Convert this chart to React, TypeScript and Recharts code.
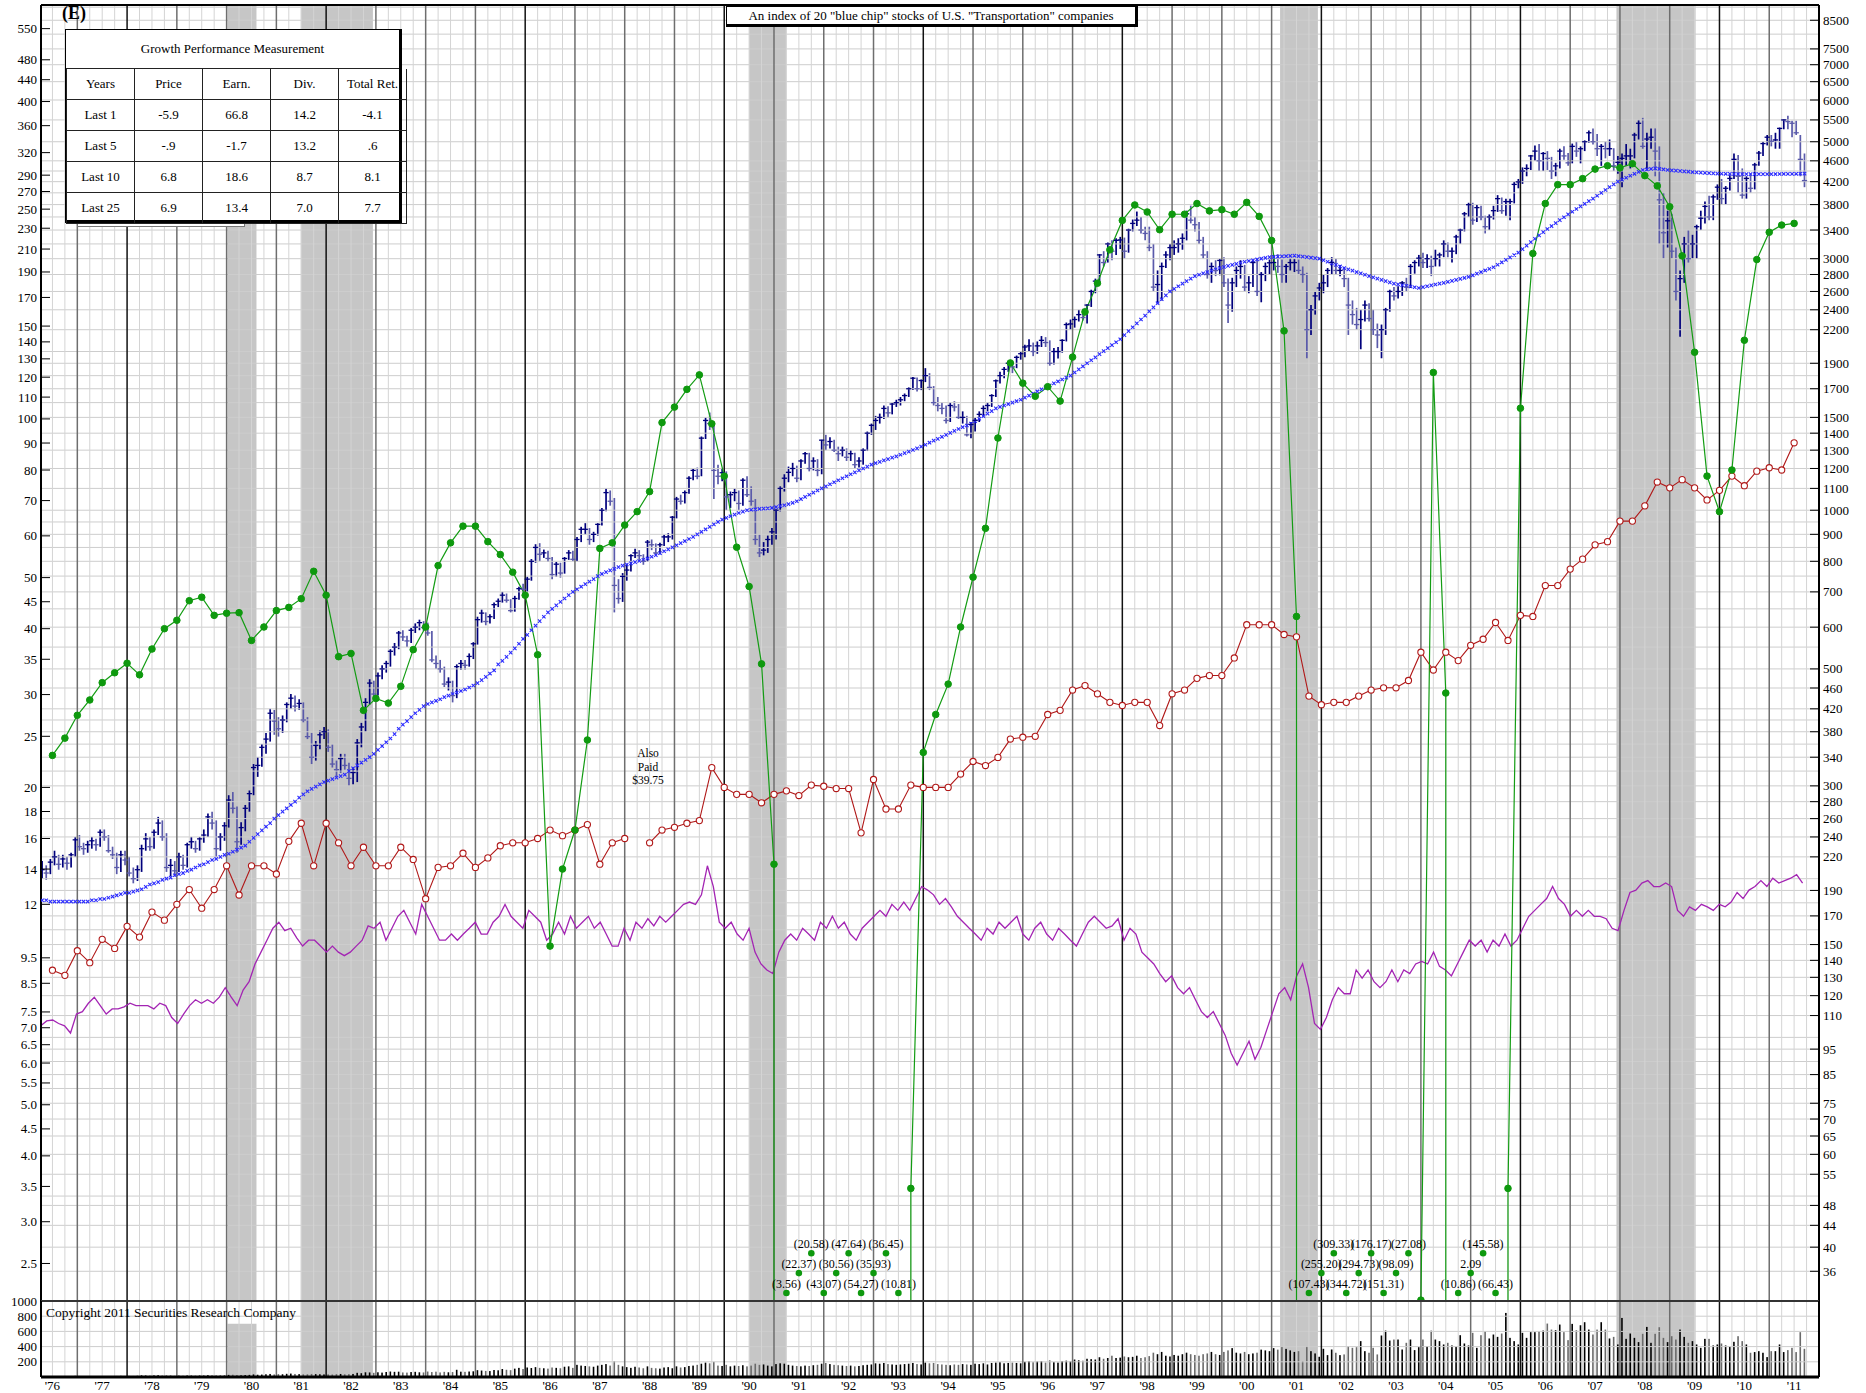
import React from 'react';
import { ComposedChart, Bar, Line, XAxis, YAxis, ReferenceArea, ReferenceLine } from 'recharts';

const W = 1866;
const SERIF = '"Liberation Serif", "Times New Roman", "DejaVu Serif", serif';

// monthly index bars, Apr 1976 .. Sep 2011 (right scale, index points)
const closes = [
  208, 205, 215, 220, 213, 218, 214, 222, 237,
  230, 228, 232, 236, 232, 245, 240, 226, 222, 210, 222, 217,
  205, 200, 208, 228, 238, 230, 245, 255, 240, 210, 212, 207,
  220, 212, 232, 235, 228, 238, 242, 262, 255, 228, 240, 252,
  282, 272, 235, 250, 272, 290, 325, 328, 355, 368, 412, 398,
  385, 400, 428, 440, 425, 430, 400, 372, 340, 358, 375, 380,
  355, 330, 322, 338, 328, 310, 318, 362, 388, 432, 470, 448,
  485, 500, 512, 540, 550, 585, 575, 565, 592, 600, 612, 599,
  585, 520, 512, 500, 468, 472, 445, 505, 512, 508, 528, 558,
  620, 638, 615, 628, 662, 672, 690, 675, 645, 680, 710, 708,
  740, 800, 850, 825, 830, 810, 755, 790, 760, 810, 830, 807,
  880, 920, 920, 880, 900, 940, 1000, 1080, 1040, 720, 680, 749,
  770, 820, 830, 820, 800, 870, 860, 830, 860, 890, 890, 970,
  1050, 1040, 1080, 1150, 1190, 1160, 1370, 1480, 1460, 1190, 1160, 1178,
  1060, 1070, 1080, 1030, 1140, 1070, 1040, 880, 830, 840, 880, 910,
  1000, 1100, 1150, 1180, 1200, 1150, 1240, 1280, 1200, 1240, 1190, 1358,
  1330, 1350, 1300, 1280, 1300, 1260, 1280, 1220, 1240, 1300, 1400, 1449,
  1480, 1500, 1560, 1530, 1590, 1600, 1620, 1650, 1700, 1780, 1700, 1762,
  1800, 1710, 1600, 1580, 1560, 1480, 1580, 1570, 1500, 1500, 1390, 1455,
  1480, 1520, 1560, 1580, 1650, 1760, 1800, 1850, 1900, 1870, 1950, 1981,
  2040, 2050, 2000, 2050, 2100, 2080, 1900, 2000, 2000, 2100, 2250, 2256,
  2300, 2350, 2320, 2450, 2600, 2720, 3050, 2950, 3200, 3100, 3250, 3256,
  3100, 3400, 3500, 3550, 3400, 3350, 3150, 2650, 2680, 2900, 3050, 3149,
  3150, 3200, 3280, 3650, 3550, 3480, 3250, 3050, 2800, 2900, 2850, 2977,
  2700, 2450, 2700, 2850, 2900, 2650, 2700, 2950, 2600, 2800, 2900, 2947,
  2950, 2900, 2800, 2900, 2950, 2950, 2850, 2800, 2200, 2400, 2550, 2640,
  2700, 2850, 2950, 2850, 2850, 2750, 2450, 2350, 2250, 2300, 2450, 2310,
  2200, 2150, 2200, 2400, 2600, 2550, 2600, 2700, 2650, 2900, 2950, 3007,
  2950, 3000, 2900, 3000, 3050, 3200, 3100, 3100, 3300, 3400, 3650, 3798,
  3550, 3750, 3600, 3450, 3600, 3700, 3900, 3700, 3850, 3850, 4150, 4196,
  4400, 4450, 4700, 4800, 4600, 4750, 4650, 4400, 4500, 4800, 4700, 4560,
  4900, 4800, 4850, 5000, 5200, 5000, 4850, 4900, 4850, 4850, 4500, 4570,
  4650, 4700, 4700, 5150, 5420, 4900, 5060, 5100, 4800, 3880, 3360, 3540,
  3100, 2600, 2750, 3200, 3000, 3200, 3450, 3580, 3770, 3600, 3930, 4100,
  3900, 4080, 4260, 4630, 4300, 3960, 4260, 4080, 4520, 4760, 4960, 5100,
  5010, 5040, 5300, 5500, 5460, 5420, 5200, 4630, 4220,
];
const highs = [
  216, 212, 218, 226, 222, 222, 220, 224, 240,
  242, 234, 236, 240, 238, 248, 248, 242, 230, 224, 226, 226,
  220, 210, 212, 232, 244, 240, 248, 262, 258, 244, 218, 216,
  224, 222, 234, 240, 236, 240, 248, 266, 268, 258, 244, 256,
  288, 292, 274, 256, 276, 294, 330, 340, 360, 378, 420, 418,
  405, 408, 432, 448, 445, 438, 432, 405, 378, 365, 382, 388,
  384, 360, 335, 345, 345, 332, 325, 368, 395, 440, 478, 475,
  492, 508, 518, 545, 560, 590, 592, 578, 598, 610, 620, 616,
  612, 590, 530, 520, 505, 482, 475, 510, 520, 520, 535, 562,
  628, 648, 640, 635, 668, 680, 700, 695, 678, 688, 716, 725,
  748, 808, 862, 866, 842, 838, 815, 798, 795, 815, 840, 838,
  890, 930, 945, 925, 910, 945, 1010, 1101, 1090, 1055, 740, 760,
  790, 825, 845, 840, 825, 878, 880, 865, 868, 898, 905, 975,
  1060, 1070, 1090, 1160, 1200, 1205, 1380, 1500, 1532, 1470, 1220, 1200,
  1185, 1085, 1100, 1090, 1150, 1160, 1110, 1050, 900, 870, 895, 925,
  1005, 1110, 1170, 1210, 1230, 1215, 1250, 1290, 1285, 1260, 1250, 1360,
  1390, 1375, 1360, 1320, 1320, 1310, 1300, 1285, 1260, 1310, 1410, 1460,
  1510, 1525, 1580, 1575, 1600, 1620, 1640, 1665, 1710, 1790, 1785, 1770,
  1860, 1820, 1720, 1640, 1600, 1580, 1600, 1610, 1590, 1540, 1510, 1470,
  1500, 1540, 1580, 1600, 1660, 1770, 1830, 1870, 1920, 1910, 1965, 2000,
  2060, 2110, 2080, 2090, 2140, 2130, 2100, 2030, 2040, 2110, 2270, 2300,
  2330, 2400, 2410, 2460, 2620, 2750, 3060, 3100, 3220, 3250, 3280, 3300,
  3290, 3420, 3560, 3686, 3600, 3450, 3450, 3200, 2850, 2950, 3100, 3200,
  3250, 3280, 3350, 3700, 3783, 3600, 3520, 3300, 3100, 2950, 2980, 3000,
  3020, 2750, 2760, 2900, 2980, 2920, 2780, 2980, 2980, 2830, 2950, 2990,
  3050, 3060, 2990, 2930, 3010, 3000, 2990, 2900, 2820, 2450, 2600, 2700,
  2800, 2880, 3020, 3000, 2920, 2880, 2760, 2500, 2420, 2400, 2500, 2470,
  2400, 2260, 2250, 2420, 2620, 2650, 2660, 2720, 2760, 2930, 2980, 3050,
  3080, 3060, 3040, 3120, 3080, 3250, 3220, 3150, 3330, 3420, 3680, 3830,
  3830, 3800, 3780, 3620, 3640, 3780, 3960, 3920, 3900, 3900, 4200, 4250,
  4470, 4530, 4720, 4920, 4950, 4780, 4800, 4680, 4560, 4850, 4900, 4760,
  4960, 5000, 4900, 5030, 5250, 5300, 5170, 4950, 5000, 5050, 4860, 4700,
  4750, 4950, 4850, 5200, 5500, 5550, 5200, 5300, 5300, 4900, 4000, 3700,
  3650, 3150, 2850, 3300, 3400, 3330, 3480, 3700, 3850, 3950, 3970, 4150,
  4250, 4120, 4320, 4750, 4720, 4450, 4300, 4350, 4560, 4800, 5000, 5150,
  5150, 5200, 5320, 5520, 5600, 5480, 5480, 5150, 4750,
];
const lows = [
  200, 199, 204, 212, 208, 210, 208, 210, 220,
  226, 222, 224, 228, 226, 230, 236, 224, 218, 204, 206, 212,
  202, 196, 198, 206, 226, 226, 228, 242, 236, 206, 202, 202,
  206, 208, 210, 228, 224, 226, 234, 240, 248, 220, 226, 236,
  250, 266, 224, 232, 246, 268, 288, 312, 326, 345, 364, 375,
  372, 378, 396, 420, 415, 418, 396, 368, 330, 335, 352, 368,
  348, 325, 312, 318, 322, 300, 302, 305, 355, 380, 428, 438,
  445, 478, 492, 505, 530, 545, 565, 550, 560, 585, 592, 590,
  578, 515, 500, 492, 462, 455, 432, 440, 498, 498, 505, 522,
  556, 612, 605, 610, 622, 655, 668, 668, 640, 642, 676, 690,
  700, 735, 795, 800, 812, 798, 740, 748, 745, 758, 805, 800,
  800, 870, 900, 860, 870, 895, 935, 995, 1020, 640, 665, 670,
  735, 765, 812, 805, 788, 798, 840, 820, 825, 855, 870, 880,
  965, 1025, 1030, 1075, 1140, 1145, 1160, 1365, 1420, 1050, 1120, 1135,
  1000, 1010, 1040, 1000, 1020, 1060, 1020, 860, 815, 821, 830, 860,
  880, 995, 1085, 1130, 1160, 1130, 1140, 1225, 1185, 1190, 1160, 1170,
  1300, 1310, 1290, 1240, 1265, 1240, 1240, 1200, 1205, 1220, 1295, 1390,
  1420, 1460, 1490, 1500, 1520, 1570, 1580, 1610, 1640, 1690, 1680, 1690,
  1750, 1690, 1580, 1540, 1520, 1460, 1470, 1540, 1490, 1460, 1380, 1370,
  1410, 1470, 1500, 1540, 1570, 1640, 1740, 1780, 1830, 1820, 1860, 1930,
  1950, 2000, 1960, 1980, 2040, 2040, 1880, 1890, 1940, 1990, 2090, 2200,
  2220, 2280, 2290, 2260, 2430, 2580, 2700, 2900, 2950, 2980, 3050, 3130,
  3000, 3080, 3380, 3460, 3350, 3250, 3100, 2600, 2460, 2500, 2880, 2980,
  3050, 3080, 3120, 3250, 3500, 3380, 3200, 3000, 2750, 2700, 2780, 2790,
  2650, 2265, 2380, 2650, 2750, 2600, 2580, 2650, 2550, 2480, 2720, 2800,
  2850, 2820, 2700, 2700, 2850, 2830, 2800, 2700, 1942, 2150, 2350, 2500,
  2580, 2650, 2800, 2800, 2780, 2650, 2150, 2250, 2200, 2020, 2280, 2280,
  2150, 2030, 1942, 2150, 2380, 2500, 2520, 2550, 2600, 2640, 2810, 2900,
  2880, 2880, 2780, 2900, 2900, 3020, 3020, 2950, 3060, 3200, 3380, 3600,
  3480, 3520, 3550, 3350, 3400, 3560, 3680, 3650, 3620, 3550, 3820, 4080,
  4160, 4300, 4420, 4600, 4400, 4400, 4420, 4250, 4300, 4450, 4620, 4500,
  4550, 4680, 4550, 4800, 4980, 4940, 4700, 4500, 4650, 4700, 4400, 4350,
  4100, 4500, 4450, 4650, 5050, 4850, 4400, 4850, 4300, 3200, 3000, 3150,
  3000, 2500, 2134, 2700, 2950, 3000, 3000, 3400, 3500, 3550, 3550, 3880,
  3800, 3800, 4040, 4250, 4000, 3900, 3900, 4000, 4060, 4500, 4700, 4920,
  4900, 4850, 4850, 5280, 5280, 5100, 5150, 4300, 4100,
];
// blue "x" average line, monthly
const avgLine = [
  182, 182, 181, 181, 181, 181, 181, 181, 181,
  181, 181, 181, 182, 182, 183, 183, 184, 185, 186, 187, 188,
  188, 189, 190, 191, 193, 195, 196, 197, 199, 200, 201, 203,
  204, 205, 207, 208, 210, 212, 213, 215, 217, 218, 220, 222,
  223, 225, 227, 229, 231, 235, 239, 243, 247, 251, 255, 260,
  264, 268, 272, 276, 280, 285, 289, 293, 296, 299, 302, 305,
  307, 309, 311, 313, 315, 320, 324, 328, 332, 336, 340, 345,
  351, 357, 363, 369, 376, 385, 392, 398, 405, 412, 418, 425,
  429, 432, 435, 438, 442, 445, 448, 451, 454, 457, 461, 465,
  470, 476, 483, 490, 497, 510, 518, 527, 537, 547, 558, 570,
  580, 592, 604, 616, 628, 640, 650, 660, 670, 680, 690, 700,
  708, 716, 724, 732, 740, 750, 757, 763, 769, 774, 780, 785,
  789, 793, 797, 801, 805, 810, 816, 822, 829, 836, 843, 850,
  858, 866, 874, 882, 890, 900, 910, 920, 930, 940, 950, 960,
  967, 974, 981, 988, 994, 1000, 1002, 1004, 1006, 1007, 1008, 1010,
  1014, 1018, 1022, 1027, 1033, 1040, 1050, 1060, 1070, 1080, 1090, 1100,
  1110, 1120, 1130, 1140, 1150, 1160, 1170, 1180, 1190, 1200, 1210, 1220,
  1228, 1235, 1243, 1250, 1258, 1265, 1274, 1283, 1292, 1301, 1310, 1320,
  1331, 1343, 1355, 1366, 1378, 1390, 1402, 1414, 1426, 1437, 1448, 1460,
  1475, 1491, 1508, 1525, 1542, 1560, 1570, 1580, 1590, 1600, 1610, 1620,
  1635, 1650, 1665, 1680, 1695, 1710, 1725, 1740, 1755, 1770, 1785, 1800,
  1825, 1850, 1875, 1900, 1925, 1950, 1977, 2004, 2030, 2057, 2083, 2110,
  2148, 2186, 2224, 2262, 2300, 2340, 2383, 2426, 2470, 2513, 2556, 2600,
  2630, 2660, 2690, 2720, 2750, 2780, 2797, 2813, 2830, 2847, 2863, 2880,
  2893, 2907, 2920, 2933, 2947, 2960, 2970, 2980, 2990, 3000, 3010, 3020,
  3023, 3027, 3030, 3033, 3037, 3040, 3033, 3027, 3020, 3013, 3007, 3000,
  2980, 2960, 2940, 2920, 2900, 2880, 2863, 2847, 2830, 2813, 2797, 2780,
  2765, 2750, 2735, 2720, 2705, 2690, 2682, 2673, 2665, 2657, 2648, 2640,
  2650, 2660, 2670, 2680, 2690, 2700, 2712, 2723, 2735, 2747, 2758, 2770,
  2790, 2810, 2830, 2850, 2870, 2890, 2922, 2953, 2985, 3017, 3048, 3080,
  3128, 3177, 3225, 3273, 3322, 3370, 3415, 3460, 3505, 3550, 3595, 3640,
  3683, 3727, 3770, 3813, 3857, 3900, 3950, 4000, 4050, 4100, 4150, 4200,
  4237, 4273, 4310, 4347, 4383, 4420, 4430, 4440, 4450, 4440, 4430, 4420,
  4413, 4407, 4400, 4393, 4387, 4380, 4375, 4370, 4365, 4360, 4355, 4350,
  4348, 4347, 4345, 4343, 4342, 4340, 4340, 4340, 4340, 4340, 4340, 4340,
  4341, 4342, 4343, 4344, 4345, 4346, 4347, 4348, 4350,
];
// monthly volume, millions
const volume = [
  12, 10, 11, 13, 10, 11, 12, 13, 15,
  14, 12, 13, 12, 11, 13, 12, 11, 12, 14, 15, 13,
  15, 14, 16, 22, 20, 18, 21, 24, 19, 22, 18, 15,
  18, 17, 20, 19, 18, 20, 19, 24, 22, 21, 19, 20,
  28, 30, 26, 22, 25, 28, 34, 30, 32, 36, 40, 34,
  38, 36, 42, 45, 40, 38, 35, 36, 40, 38, 36, 34,
  35, 33, 38, 40, 36, 38, 40, 55, 50, 62, 60, 55,
  62, 58, 66, 72, 68, 70, 60, 58, 65, 68, 62, 60,
  72, 65, 70, 60, 68, 62, 65, 95, 70, 68, 72, 75,
  90, 85, 80, 78, 92, 88, 105, 95, 90, 110, 120, 105,
  125, 118, 130, 120, 115, 110, 125, 120, 115, 135, 140, 120,
  160, 150, 145, 140, 135, 150, 160, 170, 150, 210, 160, 140,
  130, 120, 135, 125, 115, 140, 120, 115, 110, 125, 130, 115,
  140, 125, 130, 145, 150, 160, 175, 190, 180, 200, 150, 145,
  160, 140, 150, 145, 155, 140, 150, 175, 160, 165, 150, 140,
  170, 180, 175, 160, 150, 145, 140, 150, 145, 155, 160, 175,
  185, 170, 160, 155, 150, 145, 150, 140, 145, 155, 160, 165,
  180, 175, 185, 170, 165, 160, 165, 170, 175, 185, 170, 165,
  190, 180, 185, 170, 165, 160, 155, 165, 160, 170, 165, 160,
  175, 170, 180, 165, 185, 190, 195, 180, 185, 190, 185, 180,
  200, 210, 195, 205, 210, 190, 220, 195, 190, 210, 215, 205,
  230, 220, 215, 240, 235, 230, 260, 240, 250, 280, 250, 255,
  270, 260, 265, 280, 250, 260, 275, 320, 300, 330, 280, 270,
  290, 280, 300, 320, 300, 290, 280, 300, 310, 330, 300, 290,
  330, 350, 380, 320, 310, 330, 300, 310, 320, 360, 350, 340,
  380, 360, 400, 370, 350, 330, 340, 210, 406, 340, 310, 266,
  371, 288, 362, 319, 288, 297, 406, 384, 393, 472, 340, 319,
  384, 297, 546, 611, 480, 493, 493, 362, 450, 493, 354, 393,
  493, 406, 611, 493, 472, 428, 450, 415, 397, 550, 441, 415,
  581, 384, 550, 603, 507, 559, 528, 572, 843, 515, 472, 428,
  581, 515, 590, 590, 603, 611, 703, 624, 616, 690, 590, 485,
  699, 616, 681, 721, 624, 559, 624, 721, 624, 507, 528, 428,
  777, 502, 572, 515, 459, 568, 659, 450, 568, 655, 515, 459,
  537, 493, 624, 528, 450, 472, 428, 384, 502, 502, 415, 428,
  441, 415, 397, 463, 537, 472, 428, 319, 328, 340, 319, 262,
  340, 340, 428, 328, 354, 384, 328, 590, 371,
];
// quarterly earnings from mid-1976 (left scale); negatives are shown as labels
const earnings = [
  23.0, 24.8, 27.4, 29.3, 31.6, 33.0, 34.4, 32.7, 36.6, 40.0,
  41.5, 45.2, 45.9, 42.4, 42.8, 42.9, 38.0, 40.3, 43.3, 43.9,
  45.6, 51.4, 46.3, 35.4, 35.9, 28.0, 29.5, 28.9, 31.1, 36.5,
  40.3, 52.7, 58.2, 62.6, 62.6, 58.5, 55.3, 51.2, 46.3, 35.7,
  10.0, 14.0, 16.6, 24.6, 56.8, 58.2, 62.9, 66.7, 72.8, 98.4,
  105.3, 113.8, 121.2, 97.9, 77.9, 57.1, 48.1, 34.3, 14.3, -3.56,
  -22.37, -20.58, -43.07, -30.56, -47.64, -54.27, -35.93, -36.45, -10.81, 3.47,
  23.3, 27.5, 31.4, 40.3, 50.1, 62.0, 92.0, 127.7, 116.9, 110.4,
  115.1, 108.1, 131.0, 159.6, 180.9, 209.3, 238.0, 254.6, 246.9, 228.5,
  244.5, 244.5, 256.2, 248.1, 249.4, 244.5, 257.5, 242.2, 218.0, 146.9,
  42.2, -107.43, -255.20, -309.33, -344.72, -294.73, -176.17, -151.31, -98.09, -27.08,
  2.13, 122.5, 30.2, -10.86, 2.09, -145.58, -66.43, 3.47, 104.8, 206.0,
  256.2, 278.2, 278.2, 285.6, 297.8, 302.2, 299.4, 304.9, 289.4, 276.7,
  252.6, 203.8, 133.8, 77.9, 66.7, 80.0, 141.0, 200.6, 226.0, 233.2,
  234.9,
];
// quarterly dividends from mid-1976 (left scale)
const dividends: (number | null)[] = [
  9.0, 8.8, 9.8, 9.3, 10.3, 9.9, 10.9, 10.4, 11.6, 11.2,
  12.0, 12.8, 11.8, 12.8, 14.2, 12.5, 14.2, 14.2, 13.7, 15.8,
  17.1, 14.2, 17.1, 15.7, 14.2, 15.4, 14.2, 14.2, 15.4, 14.6,
  12.3, 14.1, 14.2, 15.0, 14.1, 14.7, 15.5, 15.7, 15.7, 16.0,
  16.6, 16.2, 16.6, 17.0, 14.3, 15.7, 16.0, null, 15.7, 16.6,
  16.8, 17.1, 17.3, 21.8, 20.0, 19.4, 19.4, 18.7, 19.4, 19.7,
  19.3, 20.2, 20.1, 19.9, 19.9, 16.4, 20.7, 18.2, 18.2, 20.2,
  20.0, 20.0, 20.0, 21.2, 22.4, 22.0, 22.8, 24.7, 24.9, 25.0,
  27.5, 28.0, 30.6, 31.2, 30.1, 29.0, 28.6, 29.0, 29.0, 26.2,
  30.1, 30.6, 32.2, 32.6, 32.6, 35.2, 40.7, 40.7, 40.7, 39.0,
  38.6, 29.8, 28.7, 29.0, 29.0, 29.8, 30.6, 30.9, 30.9, 31.9,
  36.1, 33.4, 36.1, 34.8, 37.2, 38.2, 41.1, 38.0, 42.4, 42.2,
  48.3, 48.3, 51.9, 54.2, 57.7, 58.5, 64.0, 64.0, 68.4, 75.9,
  74.0, 76.7, 74.0, 70.2, 73.2, 77.9, 74.7, 79.6, 80.8, 80.0, 90.1,
];
// relative strength (left scale), sampled evenly across the span
const relStrength = [
  7.06, 7.21, 7.24, 7.13, 7.06, 6.84, 7.43, 7.51, 7.79, 8.00, 7.71, 7.43, 7.60, 7.60, 7.67, 7.79, 7.71, 7.71, 7.71, 7.60,
  7.79, 7.71, 7.32, 7.13, 7.43, 7.71, 7.91, 7.79, 7.91, 7.79, 8.00, 8.34, 8.00, 7.71, 8.25, 8.56, 9.25, 9.74, 10.26, 10.81,
  11.10, 10.70, 10.81, 10.37, 10.00, 10.26, 10.26, 10.00, 9.74, 10.00, 9.74, 9.59, 9.74, 10.00, 10.26, 10.92, 10.81, 11.10, 10.26, 10.81,
  11.39, 11.69, 11.10, 10.54, 12.00, 11.39, 10.81, 10.26, 10.26, 10.54, 10.26, 10.54, 10.81, 11.10, 10.54, 10.54, 11.10, 11.39, 12.00, 11.39,
  11.10, 10.81, 11.69, 11.39, 11.10, 10.26, 10.54, 11.10, 10.54, 11.39, 10.81, 11.10, 11.39, 10.81, 11.10, 10.54, 10.00, 10.00, 10.81, 10.26,
  11.10, 10.81, 11.27, 10.92, 11.39, 11.10, 11.39, 11.69, 12.00, 12.12, 12.00, 12.51, 14.20, 12.97, 11.10, 10.81, 11.10, 10.54, 10.26, 10.81,
  9.74, 9.25, 9.01, 8.87, 9.74, 10.26, 10.54, 10.26, 10.81, 10.54, 10.26, 11.10, 10.81, 11.39, 10.81, 11.10, 10.54, 10.26, 10.81, 11.10,
  11.39, 11.69, 11.39, 12.00, 11.69, 12.12, 11.69, 12.31, 12.97, 12.77, 12.51, 12.00, 12.31, 11.87, 11.39, 11.10, 10.81, 10.54, 10.26, 10.81,
  10.54, 11.10, 10.81, 11.10, 11.39, 10.54, 10.26, 10.81, 11.10, 10.54, 10.26, 10.81, 10.54, 10.26, 10.00, 10.54, 11.10, 11.39, 11.10, 10.81,
  10.92, 11.27, 10.26, 10.81, 10.54, 9.74, 9.49, 9.25, 8.87, 8.56, 8.78, 8.34, 8.12, 8.34, 7.91, 7.51, 7.32, 7.51, 7.13, 6.77,
  6.26, 5.95, 6.26, 6.60, 6.10, 6.43, 6.95, 7.51, 8.12, 8.34, 7.91, 8.78, 9.25, 8.34, 7.13, 6.95, 7.32, 7.91, 8.34, 8.12,
  8.12, 9.01, 8.69, 9.01, 8.56, 8.34, 8.56, 9.01, 8.56, 9.01, 8.87, 9.25, 9.35, 9.25, 9.74, 9.15, 9.01, 8.78, 9.25, 9.74,
  10.26, 10.00, 10.26, 9.74, 10.26, 10.00, 10.54, 10.00, 10.26, 10.81, 11.39, 11.69, 12.00, 12.31, 12.97, 12.31, 12.00, 11.39, 11.69, 11.39,
  11.69, 11.39, 11.39, 11.27, 10.81, 10.70, 11.69, 12.64, 12.77, 13.17, 13.31, 12.97, 12.97, 13.17, 12.97, 11.69, 11.39, 11.87, 11.69, 12.00,
  11.87, 11.69, 12.00, 11.87, 12.12, 12.64, 12.31, 12.77, 12.97, 13.31, 12.97, 13.45, 13.17, 13.31, 13.45, 13.66, 13.17,
];
const recessions = [[1980.02, 1980.6], [1981.49, 1982.94], [1990.5, 1991.24], [2001.17, 2001.93], [2007.93, 2009.52]];

const leftTicks = [550, 480, 440, 400, 360, 320, 290, 270, 250, 230, 210, 190, 170, 150, 140, 130, 120, 110, 100, 90, 80, 70, 60, 50, 45, 40, 35, 30, 25, 20, 18, 16, 14, 12, 9.5, 8.5, 7.5, 7.0, 6.5, 6.0, 5.5, 5.0, 4.5, 4.0, 3.5, 3.0, 2.5];
const rightTicks = [8500, 7500, 7000, 6500, 6000, 5500, 5000, 4600, 4200, 3800, 3400, 3000, 2800, 2600, 2400, 2200, 1900, 1700, 1500, 1400, 1300, 1200, 1100, 1000, 900, 800, 700, 600, 500, 460, 420, 380, 340, 300, 280, 260, 240, 220, 190, 170, 150, 140, 130, 120, 110, 95, 85, 75, 70, 65, 60, 55, 48, 44, 40, 36];
const extraGrid = [50, 80, 90, 100, 160, 180, 200, 320, 360, 400, 550, 650, 750, 850, 950, 1600, 1800, 2000, 3200, 3600, 4000, 4400, 8000, 9000];
const volTicks = [200, 400, 600, 800, 1000];

const perfHead = ['Years', 'Price', 'Earn.', 'Div.', 'Total Ret.'];
const perfRows = [
  ['Last 1', '-5.9', '66.8', '14.2', '-4.1'],
  ['Last 5', '-.9', '-1.7', '13.2', '.6'],
  ['Last 10', '6.8', '18.6', '8.7', '8.1'],
  ['Last 25', '6.9', '13.4', '7.0', '7.7'],
];

const T0 = 1976.27;
const T1 = 2012.0;
const LMIN = 2.122;
const LMAX = 609.8;
const RATIO = 14.9;
const FLOOR = 1.2;
const STAGGER = [2.198, 2.397, 2.614];

const monthT = (i: number) => 1976 + (3 + i + 0.5) / 12;
const quarterT = (k: number) => 1976.5 + k / 4;

const priceRows = closes.map((c, i) => ({
  t: monthT(i),
  close: c,
  range: [lows[i], highs[i]],
  down: i > 0 && c < closes[i - 1],
}));
const avgRows = avgLine.map((v, i) => ({ t: monthT(i), v }));
const volRows = volume.map((v, i) => ({ t: monthT(i), vol: v, down: i > 0 && closes[i] < closes[i - 1] }));
const divRows = dividends.map((v, k) => ({ t: quarterT(k), v }));
const rsRows = relStrength.map((v, i) => ({ t: 1976.265 + (i * (2011.67 - 1976.265)) / (relStrength.length - 1), v }));

const earnRows: any[] = [];
const offRows: any[] = [];
let grp = 0;
earnings.forEach((v, k) => {
  const t = quarterT(k);
  const off = v < 2.12;
  const prevOff = k > 0 && earnings[k - 1] < 2.12;
  if (off) {
    if (!prevOff) { earnRows.push({ t: quarterT(k - 1), v: FLOOR }); grp = 0; }
    earnRows.push({ t, v: null });
    offRows.push({ t, v: STAGGER[grp % 3], label: v < 0 ? `(${Math.abs(v).toFixed(2)})` : v.toFixed(2) });
    grp++;
  } else {
    if (prevOff) earnRows.push({ t, v: FLOOR });
    earnRows.push({ t, v, dot: true });
  }
});

const quarterLines: number[] = [];
for (let y = 1976; y < 2012; y++) [0.25, 0.5, 0.75].forEach((q) => { if (y + q > T0) quarterLines.push(y + q); });
const yearLines: number[] = [];
for (let y = 1977; y <= 2011; y++) yearLines.push(y);
const yearMids: number[] = [];
for (let y = 1976; y <= 2011; y++) yearMids.push(y + 0.5);

const fmtLeft = (v: number) => (v < 10 ? v.toFixed(1) : String(v));

const LeftTick = (p: any) => (
  <g>
    <line x1={p.x} x2={p.x + 9} y1={p.y} y2={p.y} stroke="#000" strokeWidth={1} />
    <text x={p.x - 4} y={p.y} dy={4.5} textAnchor="end" fontSize={13} fontFamily={SERIF} fill="#000">
      {fmtLeft(p.payload.value)}
    </text>
  </g>
);
const RightTick = (p: any) => (
  <g>
    <line x1={p.x - 9} x2={p.x} y1={p.y} y2={p.y} stroke="#000" strokeWidth={1} />
    <text x={p.x + 4} y={p.y} dy={4.5} textAnchor="start" fontSize={13} fontFamily={SERIF} fill="#000">
      {p.payload.value}
    </text>
  </g>
);
const VolLeftTick = (p: any) => (
  <g>
    <text x={p.x - 4} y={p.y} dy={4.5} textAnchor="end" fontSize={13} fontFamily={SERIF} fill="#000">{p.payload.value}</text>
  </g>
);
const VolRightTick = (p: any) => (
  <g>
    <text x={p.x + 4} y={p.y} dy={4.5} textAnchor="start" fontSize={13} fontFamily={SERIF} fill="#000">
      {p.payload.value === 1000 ? '1000M' : p.payload.value}
    </text>
  </g>
);
const YearTick = (p: any) => (
  <text x={p.x} y={p.y + 13} textAnchor="middle" fontSize={13} fontFamily={SERIF} fill="#000">
    {"'" + String(Math.floor(p.payload.value)).slice(2)}
  </text>
);

const PriceBar = (p: any) => {
  const cx = p.x + p.width / 2;
  const col = p.payload.down ? '#5a5aaa' : '#00007c';
  return <line x1={cx} x2={cx} y1={p.y} y2={p.y + p.height} stroke={col} strokeWidth={1.7} />;
};
const CloseTick = (p: any) => {
  if (p.cy == null) return <g key={p.index} />;
  const col = p.payload.down ? '#5a5aaa' : '#00007c';
  return <line key={p.index} x1={p.cx - 2.6} x2={p.cx + 2.6} y1={p.cy} y2={p.cy} stroke={col} strokeWidth={1.3} />;
};
const XMark = (p: any) => {
  if (p.cy == null) return <g key={p.index} />;
  const s = 1.7;
  return (
    <path key={p.index} d={`M${p.cx - s},${p.cy - s}L${p.cx + s},${p.cy + s}M${p.cx - s},${p.cy + s}L${p.cx + s},${p.cy - s}`}
      stroke="#2a2aff" strokeWidth={1.1} fill="none" />
  );
};
const GreenDot = (p: any) => {
  if (p.cy == null || !p.payload.dot) return <g key={p.index} />;
  return <circle key={p.index} cx={p.cx} cy={p.cy} r={3.3} fill="#0e990e" stroke="#0e990e" />;
};
const OpenDot = (p: any) => {
  if (p.cy == null || p.value == null) return <g key={p.index} />;
  return <circle key={p.index} cx={p.cx} cy={p.cy} r={3.1} fill="#fff" stroke="#b01818" strokeWidth={1.1} />;
};
const OffLabel = (p: any) => {
  if (p.cy == null) return <g key={p.index} />;
  return (
    <g key={p.index}>
      <circle cx={p.cx} cy={p.cy} r={3.3} fill="#0e990e" />
      <text x={p.cx} y={p.cy - 5} textAnchor="middle" fontSize={12} fontFamily={SERIF} fill="#000">{p.payload.label}</text>
    </g>
  );
};
const VolBar = (p: any) => {
  const cx = p.x + p.width / 2;
  return <rect x={cx - 0.8} y={p.y} width={1.6} height={Math.max(0, p.height)} fill={p.payload.down ? '#6a6a6a' : '#000'} />;
};

const bands = (axis: string) =>
  recessions.map(([a, b], i) => (
    <ReferenceArea key={'r' + i} x1={a} x2={b} yAxisId={axis} fill="#c6c6c6" fillOpacity={1} stroke="none" />
  ));
const vLines = (axis: string) => [
  ...quarterLines.map((t) => <ReferenceLine key={'q' + t} x={t} yAxisId={axis} stroke="#d4d4d4" strokeWidth={1} />),
  ...yearLines.map((t) => (
    <ReferenceLine key={'y' + t} x={t} yAxisId={axis} stroke={t % 4 === 2 ? '#111' : '#6e6e6e'} strokeWidth={1.5} />
  )),
];

const MainChart = () => (
  <ComposedChart width={W} height={1302} data={priceRows} margin={{ top: 5, right: 0, bottom: 1, left: 0 }}>
    <XAxis dataKey="t" type="number" domain={[T0, T1]} allowDataOverflow hide />
    <YAxis yAxisId="left" scale="log" domain={[LMIN, LMAX]} allowDataOverflow ticks={leftTicks} interval={0} width={41}
      tickSize={0} tickMargin={0} tickLine={false} tick={LeftTick} axisLine={{ stroke: '#000', strokeWidth: 2 }} />
    <YAxis yAxisId="right" orientation="right" scale="log" domain={[LMIN * RATIO, LMAX * RATIO]} allowDataOverflow
      ticks={rightTicks} interval={0} width={47} tickSize={0} tickMargin={0} tickLine={false} tick={RightTick}
      axisLine={{ stroke: '#000', strokeWidth: 2 }} />
    {bands('left')}
    {[...rightTicks, ...extraGrid].map((v) => (
      <ReferenceLine key={'h' + v} y={v} yAxisId="right" stroke="#cdcdcd" strokeWidth={1} />
    ))}
    {vLines('left')}
    <ReferenceLine y={LMAX} yAxisId="left" stroke="#000" strokeWidth={2} />
    <ReferenceLine y={LMIN} yAxisId="left" stroke="#333" strokeWidth={1.5} />
    <Line yAxisId="right" data={avgRows} dataKey="v" stroke="none" dot={XMark} activeDot={false} isAnimationActive={false} />
    <Bar yAxisId="right" dataKey="range" barSize={2} shape={PriceBar} isAnimationActive={false} />
    <Line yAxisId="right" dataKey="close" stroke="none" dot={CloseTick} activeDot={false} isAnimationActive={false} />
    <Line yAxisId="left" data={rsRows} dataKey="v" stroke="#a324b3" strokeWidth={1.3} dot={false} activeDot={false} isAnimationActive={false} />
    <Line yAxisId="left" data={divRows} dataKey="v" stroke="#b01818" strokeWidth={1.1} dot={OpenDot} activeDot={false} connectNulls={false} isAnimationActive={false} />
    <Line yAxisId="left" data={earnRows} dataKey="v" stroke="#139c13" strokeWidth={1.2} dot={GreenDot} activeDot={false} connectNulls={false} isAnimationActive={false} />
    <Line yAxisId="left" data={offRows} dataKey="v" stroke="none" dot={OffLabel} activeDot={false} isAnimationActive={false} />
  </ComposedChart>
);

// volume panel: svg starts 8px above the panel so the top tick labels are not clipped
const VolumeChart = () => (
  <ComposedChart width={W} height={100} data={volRows} margin={{ top: 8, right: 0, bottom: 0, left: 0 }}>
    <XAxis dataKey="t" type="number" domain={[T0, T1]} allowDataOverflow ticks={yearMids} interval={0} height={16}
      tickSize={0} tickMargin={0} tickLine={false} tick={YearTick} axisLine={{ stroke: '#000', strokeWidth: 3 }} />
    <YAxis yAxisId="l" domain={[0, 1000]} ticks={volTicks} interval={0} width={41} tickSize={0} tickMargin={0}
      tickLine={false} tick={VolLeftTick} axisLine={{ stroke: '#000', strokeWidth: 2 }} />
    <YAxis yAxisId="r" orientation="right" domain={[0, 1000]} ticks={volTicks} interval={0} width={47} tickSize={0}
      tickMargin={0} tickLine={false} tick={VolRightTick} axisLine={{ stroke: '#000', strokeWidth: 2 }} />
    {bands('l')}
    <ReferenceArea x1={T0} x2={1981.4} y1={700} y2={1000} yAxisId="l" fill="#fff" fillOpacity={1} stroke="none" />
    {[200, 400, 600, 800].map((v) => (
      <ReferenceLine key={'vh' + v} y={v} yAxisId="l" stroke="#cdcdcd" strokeWidth={1} />
    ))}
    {vLines('l')}
    <ReferenceLine y={1000} yAxisId="l" stroke="#333" strokeWidth={2} />
    <Bar yAxisId="l" dataKey="vol" barSize={2} shape={VolBar} isAnimationActive={false} />
  </ComposedChart>
);

export default function App() {
  const cell: React.CSSProperties = { border: '1px solid #222', textAlign: 'center', padding: 0, height: 30, width: 67 };
  return (
    <div style={{ position: 'absolute', left: 0, top: 0, width: W, height: 1393, background: '#fff', fontFamily: SERIF, overflow: 'hidden' }}>
      <div style={{ position: 'absolute', left: 0, top: 0 }}>
        <MainChart />
      </div>
      <div style={{ position: 'absolute', left: 0, top: 1293 }}>
        <VolumeChart />
      </div>
      <div style={{ position: 'absolute', left: 46, top: 1305, fontSize: 13.5, lineHeight: '16px', color: '#000' }}>
        Copyright 2011 Securities Research Company
      </div>
      <div style={{ position: 'absolute', left: 62, top: 3, fontSize: 18, fontWeight: 'bold', lineHeight: '20px' }}>(E)</div>
      <div style={{ position: 'absolute', left: 726, top: 6, width: 408, height: 17, border: '1.5px solid #000', borderRightWidth: 3, borderBottomWidth: 3, background: '#fff', fontSize: 13, lineHeight: '17px', textAlign: 'center' }}>
        An index of 20 "blue chip" stocks of U.S. "Transportation" companies
      </div>
      <div style={{ position: 'absolute', left: 77, top: 205, width: 166, height: 20, border: '1.5px solid #777', background: '#fff' }} />
      <div style={{ position: 'absolute', left: 65, top: 29, width: 333, height: 190, border: '1.5px solid #000', borderRightWidth: 3.5, borderBottomWidth: 3.5, background: '#fff' }}>
        <div style={{ height: 38, lineHeight: '38px', textAlign: 'center', fontSize: 13, borderBottom: '1px solid #222' }}>
          Growth Performance Measurement
        </div>
        <table style={{ borderCollapse: 'collapse', width: '100%', fontSize: 13, fontFamily: SERIF, tableLayout: 'fixed' }}>
          <tbody>
            <tr>{perfHead.map((h) => <td key={h} style={{ ...cell, borderTop: 'none' }}>{h}</td>)}</tr>
            {perfRows.map((r) => (
              <tr key={r[0]}>{r.map((c, j) => <td key={j} style={cell}>{c}</td>)}</tr>
            ))}
          </tbody>
        </table>
      </div>
      <div style={{ position: 'absolute', left: 618, top: 747, width: 60, textAlign: 'center', fontSize: 11.5, lineHeight: '13.5px' }}>
        Also<br />Paid<br />$39.75
      </div>
    </div>
  );
}
